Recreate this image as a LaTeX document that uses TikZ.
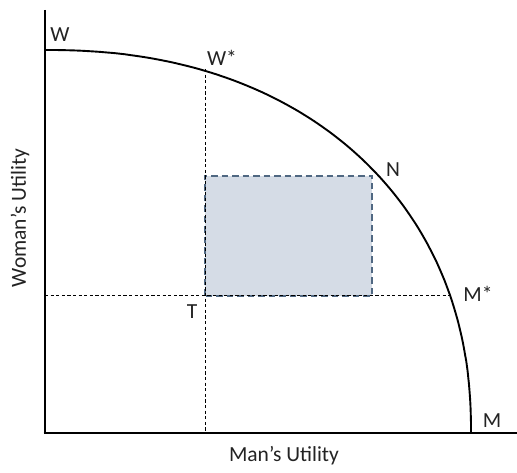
\documentclass[tikz,border=0pt]{standalone}
\usepackage{fontspec}
\setmainfont{Carlito}
\definecolor{regionfill}{RGB}{213,220,230}
\definecolor{regionedge}{RGB}{80,104,130}
\definecolor{labeltext}{RGB}{35,35,35}
\begin{document}
\begin{tikzpicture}[x=1pt,y=-1pt,
  lbl/.style={font=\fontsize{21.5}{25}\selectfont, text=labeltext, inner sep=0pt},
  axis/.style={line width=2.8pt, black},
  frontier/.style={line width=1.9pt, black},
  guide/.style={line width=1pt, black, dash pattern=on 3.2pt off 2.4pt},
  region/.style={fill=regionfill, draw=regionedge, line width=1.7pt, dash pattern=on 6.5pt off 4pt}]
\useasboundingbox (0,0) rectangle (517,473);
\fill[white] (0,0) rectangle (517,473);
% key points
\coordinate (O) at (45,433);
\coordinate (Ytop) at (45,10);
\coordinate (Xend) at (517,433);
\coordinate (W) at (45,50);
\coordinate (M) at (471,433);
\coordinate (Wstar) at (205,69);
\coordinate (Mstar) at (451,296);
\coordinate (N) at (372,176);
\coordinate (T) at (205,296);
\coordinate (Wfoot) at (205,433);
\coordinate (Mfoot) at (45,296);
% shaded region
\draw[region] (T) rectangle (N);
% guides
\draw[guide] (Wstar) -- (Wfoot);
\draw[guide] (Mfoot) -- (Mstar);
% frontier (superellipse, n = 2.2)
\draw[frontier] (W) -- plot[domain=89.99:0.01, samples=120, smooth]
  ({45+426*pow(cos(\x),0.90909)}, {433-383*pow(sin(\x),0.90909)}) -- (M);
% axes
\draw[axis] (Ytop) -- (45,434.4);
\draw[axis] (43.6,433) -- (Xend);
% labels
\node[lbl] (lW) at (60,35) {W};
\node[lbl] (lWs) at (222,58) {W*};
\node[lbl] (lN) at (393,170) {N};
\node[lbl] (lT) at (192,312) {T};
\node[lbl] (lMs) at (478,294) {M*};
\node[lbl] (lM) at (492,421) {M};
\node[lbl] (xl) at (284,456) {Man’s Utility};
\node[lbl, rotate=90] (yl) at (20,218) {Woman’s Utility};
\end{tikzpicture}
\end{document}
